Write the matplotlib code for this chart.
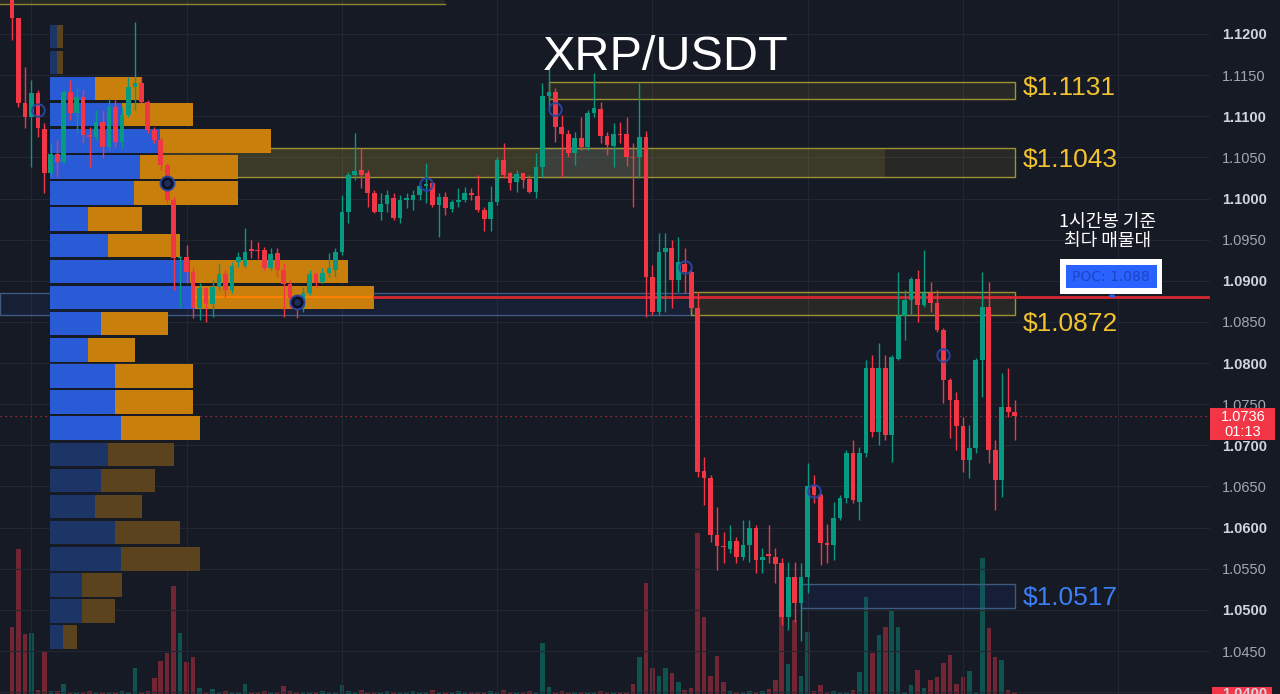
import numpy as np
import matplotlib.pyplot as plt
from matplotlib.patches import Rectangle, Circle
from matplotlib.transforms import blended_transform_factory

# ---- candles (1h) ----
opens = [1.1250, 1.1219, 1.1116, 1.1099, 1.1128, 1.1085, 1.1031, 1.1054, 1.1044, 1.1130,
         1.1104, 1.1123, 1.1077, 1.1075, 1.1093, 1.1063, 1.1111, 1.1069, 1.1102, 1.1136,
         1.1140, 1.1117, 1.1083, 1.1071, 1.1041, 1.0998, 1.0928, 1.0929, 1.0911, 1.0867,
         1.0891, 1.0872, 1.0892, 1.0908, 1.0889, 1.0923, 1.0918, 1.0939, 1.0938, 1.0937,
         1.0916, 1.0934, 1.0913, 1.0896, 1.0879, 1.0868, 1.0885, 1.0908, 1.0898, 1.0910,
         1.0913, 1.0935, 1.0984, 1.1029, 1.1035, 1.1031, 1.1007, 1.0984, 1.0993, 1.1001,
         1.0976, 1.0998, 1.0998, 1.1004, 1.1015, 1.1019, 1.0992, 1.1002, 1.0987, 1.0996,
         1.0998, 1.1007, 1.1003, 1.0986, 1.0975, 1.0996, 1.1047, 1.1031, 1.1020, 1.1031,
         1.1024, 1.1008, 1.1038, 1.1125, 1.1130, 1.1087, 1.1078, 1.1055, 1.1074, 1.1063,
         1.1104, 1.1109, 1.1076, 1.1064, 1.1078, 1.1078, 1.1051, 1.1050, 1.1075, 1.0905,
         1.0862, 1.0935, 1.0940, 1.0901, 1.0920, 1.0911, 1.0867, 1.0669, 1.0660, 1.0591,
         1.0577, 1.0574, 1.0584, 1.0564, 1.0579, 1.0600, 1.0561, 1.0567, 1.0564, 1.0557,
         1.0491, 1.0540, 1.0508, 1.0540, 1.0650, 1.0640, 1.0581, 1.0579, 1.0612, 1.0636,
         1.0691, 1.0631, 1.0691, 1.0794, 1.0716, 1.0794, 1.0713, 1.0805, 1.0857, 1.0877,
         1.0902, 1.0871, 1.0885, 1.0873, 1.0840, 1.0779, 1.0755, 1.0723, 1.0682, 1.0697,
         1.0804, 1.0868, 1.0694, 1.0658, 1.0747, 1.0741]
highs = [1.1253, 1.1220, 1.1160, 1.1144, 1.1132, 1.1092, 1.1068, 1.1071, 1.1132, 1.1144,
         1.1134, 1.1132, 1.1087, 1.1108, 1.1108, 1.1122, 1.1120, 1.1111, 1.1148, 1.1215,
         1.1148, 1.1120, 1.1087, 1.1075, 1.1043, 1.1002, 1.0930, 1.0944, 1.0917, 1.0897,
         1.0892, 1.0901, 1.0922, 1.0913, 1.0923, 1.0935, 1.0964, 1.0950, 1.0947, 1.0941,
         1.0940, 1.0940, 1.0922, 1.0901, 1.0880, 1.0892, 1.0913, 1.0911, 1.0916, 1.0934,
         1.0940, 1.1004, 1.1032, 1.1080, 1.1061, 1.1035, 1.1010, 1.1007, 1.1010, 1.1007,
         1.1004, 1.1007, 1.1010, 1.1020, 1.1043, 1.1020, 1.1007, 1.1008, 1.0998, 1.1013,
         1.1014, 1.1013, 1.1029, 1.0990, 1.1015, 1.1051, 1.1068, 1.1032, 1.1035, 1.1031,
         1.1029, 1.1055, 1.1140, 1.1166, 1.1134, 1.1102, 1.1083, 1.1081, 1.1099, 1.1108,
         1.1153, 1.1117, 1.1081, 1.1092, 1.1093, 1.1099, 1.1068, 1.1140, 1.1082, 1.0919,
         1.0958, 1.0958, 1.0950, 1.0953, 1.0940, 1.0913, 1.0886, 1.0686, 1.0664, 1.0625,
         1.0595, 1.0603, 1.0589, 1.0609, 1.0609, 1.0603, 1.0575, 1.0603, 1.0575, 1.0563,
         1.0558, 1.0558, 1.0557, 1.0679, 1.0664, 1.0642, 1.0605, 1.0631, 1.0640, 1.0694,
         1.0707, 1.0698, 1.0804, 1.0810, 1.0824, 1.0810, 1.0810, 1.0911, 1.0889, 1.0905,
         1.0913, 1.0937, 1.0899, 1.0889, 1.0843, 1.0782, 1.0765, 1.0734, 1.0725, 1.0806,
         1.0911, 1.0899, 1.0706, 1.0788, 1.0794, 1.0755]
lows = [1.1193, 1.1111, 1.1086, 1.1038, 1.1075, 1.1007, 1.1026, 1.1026, 1.1043, 1.1096,
        1.1081, 1.1068, 1.1038, 1.1071, 1.1049, 1.1059, 1.1063, 1.1061, 1.1099, 1.1108,
        1.1116, 1.1080, 1.1068, 1.1035, 1.0995, 1.0889, 1.0868, 1.0897, 1.0855, 1.0852,
        1.0850, 1.0856, 1.0889, 1.0880, 1.0885, 1.0917, 1.0916, 1.0928, 1.0927, 1.0913,
        1.0913, 1.0905, 1.0856, 1.0867, 1.0855, 1.0862, 1.0883, 1.0893, 1.0897, 1.0905,
        1.0905, 1.0931, 1.0970, 1.1023, 1.1013, 1.0990, 1.0982, 1.0974, 1.0984, 1.0974,
        1.0970, 1.0989, 1.0986, 1.0998, 1.0995, 1.0990, 1.0953, 1.0980, 1.0984, 1.0990,
        1.0996, 1.0998, 1.0984, 1.0961, 1.0961, 1.0992, 1.1025, 1.1010, 1.1008, 1.1013,
        1.1007, 1.1001, 1.1026, 1.1108, 1.1069, 1.1026, 1.1050, 1.1041, 1.1059, 1.1059,
        1.1099, 1.1068, 1.1053, 1.1038, 1.1068, 1.1040, 1.0990, 1.1025, 1.0856, 1.0858,
        1.0858, 1.0862, 1.0867, 1.0886, 1.0885, 1.0864, 1.0662, 1.0627, 1.0582, 1.0549,
        1.0557, 1.0569, 1.0557, 1.0561, 1.0558, 1.0545, 1.0545, 1.0557, 1.0533, 1.0482,
        1.0476, 1.0485, 1.0462, 1.0521, 1.0630, 1.0555, 1.0557, 1.0561, 1.0609, 1.0630,
        1.0630, 1.0609, 1.0686, 1.0710, 1.0700, 1.0707, 1.0680, 1.0804, 1.0828, 1.0858,
        1.0850, 1.0868, 1.0862, 1.0838, 1.0751, 1.0709, 1.0694, 1.0668, 1.0660, 1.0691,
        1.0759, 1.0678, 1.0621, 1.0637, 1.0735, 1.0707]
closes = [1.1219, 1.1116, 1.1099, 1.1128, 1.1086, 1.1031, 1.1054, 1.1044, 1.1130, 1.1104,
          1.1123, 1.1077, 1.1075, 1.1093, 1.1063, 1.1111, 1.1069, 1.1102, 1.1136, 1.1140,
          1.1117, 1.1083, 1.1071, 1.1041, 1.0998, 1.0928, 1.0929, 1.0911, 1.0867, 1.0891,
          1.0872, 1.0892, 1.0908, 1.0889, 1.0918, 1.0929, 1.0935, 1.0936, 1.0936, 1.0916,
          1.0933, 1.0913, 1.0896, 1.0879, 1.0874, 1.0885, 1.0908, 1.0897, 1.0910, 1.0916,
          1.0935, 1.0984, 1.1029, 1.1034, 1.1029, 1.1007, 1.0984, 1.0993, 1.1004, 1.0976,
          1.0998, 1.1001, 1.1004, 1.1015, 1.1018, 1.0992, 1.1002, 1.0989, 1.0996, 1.0998,
          1.1007, 1.1004, 1.0986, 1.0975, 1.0996, 1.1047, 1.1029, 1.1019, 1.1030, 1.1023,
          1.1008, 1.1038, 1.1125, 1.1130, 1.1087, 1.1078, 1.1055, 1.1074, 1.1063, 1.1104,
          1.1110, 1.1076, 1.1065, 1.1078, 1.1077, 1.1050, 1.1049, 1.1075, 1.0905, 1.0862,
          1.0935, 1.0940, 1.0901, 1.0923, 1.0911, 1.0867, 1.0668, 1.0660, 1.0591, 1.0578,
          1.0576, 1.0584, 1.0564, 1.0579, 1.0600, 1.0561, 1.0564, 1.0566, 1.0556, 1.0491,
          1.0540, 1.0508, 1.0540, 1.0651, 1.0640, 1.0581, 1.0579, 1.0612, 1.0636, 1.0691,
          1.0634, 1.0691, 1.0794, 1.0716, 1.0794, 1.0713, 1.0807, 1.0857, 1.0877, 1.0902,
          1.0871, 1.0885, 1.0873, 1.0840, 1.0779, 1.0755, 1.0723, 1.0682, 1.0697, 1.0804,
          1.0868, 1.0694, 1.0658, 1.0747, 1.0741, 1.0736]
volumes = [67, 145, 60, 61, 4, 43, 3, 3, 10,
           2, 1, 2, 3, 1, 2, 2, 1, 3, 2,
           26, 2, 3, 16, 33, 41, 108, 61, 32, 37, 6, 2, 5,
           2, 3, 1, 2, 10, 2, 1, 3, 2, 2, 8,
           3, 2, 1, 2, 2, 3, 1, 2, 9,
           3, 2, 4, 2, 1, 2, 3, 2, 2, 1, 3, 2, 2, 4, 2, 1, 2, 3, 2, 2,
           1, 2, 3, 2, 4, 2, 2, 1, 3, 2,
           51, 7, 2, 3, 2, 1, 2, 2, 2, 3, 2, 2, 1, 2,
           10, 37, 111, 26, 18, 26, 21, 12, 4, 6, 161, 77, 18, 38, 12,
           3, 2, 2, 3, 2, 3, 5, 14, 77, 30, 74, 18, 62, 3, 9,
           2, 3, 2, 2, 4,
           22, 97, 41, 59, 67, 84, 67, 2, 9, 24, 6, 14, 17, 31, 39, 10, 17, 23, 2,
           136, 66, 37, 34, 4, 2]

# ---- visible range volume profile (bottom row first) ----
prof_low, prof_high = 1.0451, 1.1213
prof_up = [13, 32, 32, 71, 65, 45, 51, 58, 71, 65, 65, 38, 51, 145, 140, 58, 38, 84, 90, 110, 72, 45, 7, 7]
prof_down = [14, 33, 40, 79, 65, 47, 54, 66, 79, 78, 78, 47, 67, 179, 158, 72, 54, 104, 98, 111, 71, 47, 6, 6]
va_rows = (8, 21)
poc = 1.088

last_price = 1.0736
countdown = "01:13"

# ---- marked zones ----
zone_labels = ["$1.1131", "$1.1043", "$1.0872", "$1.0517"]
zone_low = [1.1121, 1.1026, 1.0859, 1.0502]
zone_high = [1.1142, 1.1061, 1.0886, 1.0532]
zone_start = [83, 23, 105, 122]
zone_kind = ["y", "y", "y", "b"]
label_at = [1.1134, 1.1047, 1.0847, 1.0515]

marker_idx = [4, 24, 44, 64, 84, 104, 124, 144]
marker_price = [1.1108, 1.1019, 1.0874, 1.1018, 1.1109, 1.0917, 1.0645, 1.0810]
marker_filled = [False, True, True, False, False, False, False, False]

BG = "#161a25"
UP = "#089981"
DN = "#f23645"
YEL = "#f2c230"
BLU = "#3d7ef5"

W, H = 1280, 694
PW = 1210  # plot width in px, price scale to the right
fig = plt.figure(figsize=(W / 100, H / 100), dpi=100, facecolor=BG)


def fx(px):
    return px / W


def fy(py):
    return 1 - py / H


n = len(closes)
idx = np.arange(n)
xlim = (-1.85, 185.2)
ylim = (1.03978, 1.12413)

# volume pane (drawn underneath)
axv = fig.add_axes([0, 0, PW / W, 1], facecolor=BG)
axv.set_xlim(*xlim)
axv.set_ylim(0, H)
vcol = [UP if c >= o else DN for o, c in zip(opens, closes)]
valpha = [0.45 if c >= o else 0.42 for o, c in zip(opens, closes)]
for i in range(n):
    axv.bar(idx[i], volumes[i], width=0.7, color=vcol[i], alpha=valpha[i], linewidth=0)
axv.axis("off")

ax = fig.add_axes([0, 0, PW / W, 1], facecolor="none")
ax.set_xlim(*xlim)
ax.set_ylim(*ylim)
for s in ax.spines.values():
    s.set_visible(False)

# grid
for p in np.arange(1.040, 1.1251, 0.005):
    ax.axhline(p, color="#232734", lw=0.8, zorder=0)
for g in range(3, 180, 24):
    ax.axvline(g, color="#232734", lw=0.8, zorder=0)

# zones
ax.add_patch(Rectangle((xlim[0], 1.1237), 67 - xlim[0], 0.006, facecolor="#ffe13b", alpha=0.07,
                       edgecolor="none", zorder=1))
ax.plot([xlim[0], 67], [1.1237, 1.1237], color="#8f8530", lw=1, zorder=1)

ax.add_patch(Rectangle((xlim[0], 1.0859), 105 - xlim[0], 1.0885 - 1.0859, facecolor="#2962ff",
                       alpha=0.07, edgecolor="none", zorder=1))
ax.add_patch(Rectangle((xlim[0], 1.0859), 105 - xlim[0], 1.0885 - 1.0859, facecolor="none",
                       edgecolor="#3d5a80", lw=1, zorder=1))
ax.add_patch(Rectangle((82, 1.1026), 15, 1.1061 - 1.1026, facecolor="#2962ff", alpha=0.12,
                       edgecolor="none", zorder=1))
ax.add_patch(Rectangle((82, 1.1026), 15, 1.1061 - 1.1026, facecolor="none",
                       edgecolor="#3d5a80", lw=1, zorder=1))
ax.add_patch(Rectangle((23, 1.1026), 112, 1.1061 - 1.1026, facecolor="#ffe13b", alpha=0.09,
                       edgecolor="none", zorder=1))

for lab, lo, hi, st, k, ly in zip(zone_labels, zone_low, zone_high, zone_start, zone_kind, label_at):
    ec = "#9d9134" if k == "y" else "#3d5a80"
    fc = "#ffe13b" if k == "y" else "#2962ff"
    ax.add_patch(Rectangle((st, lo), n - 1 - st, hi - lo, facecolor=fc, alpha=0.08,
                           edgecolor="none", zorder=1))
    ax.add_patch(Rectangle((st, lo), n - 1 - st, hi - lo, facecolor="none",
                           edgecolor=ec, lw=1, zorder=1))
    ax.text(n + 0.2, ly, lab, color=YEL if k == "y" else BLU, fontsize=19,
            family="Liberation Sans", ha="left", va="center", zorder=6)

# volume profile anchored to the left edge
tb = blended_transform_factory(ax.transAxes, ax.transData)
edges = np.linspace(prof_low, prof_high, len(prof_up) + 1)
row_h = edges[1] - edges[0]
gap = 0.00032
x0 = 50 / PW
poc_row = int(np.argmax(np.array(prof_up) + np.array(prof_down)))
for r, (u, d) in enumerate(zip(prof_up, prof_down)):
    inside = va_rows[0] <= r <= va_rows[1]
    cu = "#2a5bd7" if inside else "#1d3467"
    cd = "#c97f0c" if inside else "#5b431e"
    ax.add_patch(Rectangle((x0, edges[r] + gap / 2), u / PW, row_h - gap, transform=tb,
                           facecolor=cu, edgecolor="none", zorder=2))
    ax.add_patch(Rectangle((x0 + u / PW, edges[r] + gap / 2), d / PW, row_h - gap, transform=tb,
                           facecolor=cd, edgecolor="none", zorder=2))
poc_end = x0 + (prof_up[poc_row] + prof_down[poc_row]) / PW
ax.plot([x0 + prof_up[poc_row] / PW, poc_end], [poc, poc], transform=tb, color="#ff7f00",
        lw=1.6, zorder=2.5)
ax.plot([poc_end, 1.0], [poc, poc], transform=tb, color="#d62830", lw=2, zorder=2.5)

# last price line
ax.axhline(last_price, color=DN, lw=0.9, ls=(0, (1, 3)), alpha=0.8, zorder=1.5)

# candles
ccol = [UP if c >= o else DN for o, c in zip(opens, closes)]
ax.vlines(idx, lows, highs, colors=ccol, lw=1, zorder=3)
bot = np.minimum(opens, closes)
hgt = np.maximum(np.abs(np.array(closes) - np.array(opens)), 0.00014)
ax.bar(idx, hgt, bottom=bot, width=0.72, color=ccol, linewidth=0, zorder=3.1)

# pivot markers
for mi, mp, mf in zip(marker_idx, marker_price, marker_filled):
    ax.plot(mi, mp, "o", ms=10 if mf else 9, mfc="#0c0f1a" if mf else "none",
            mec="#2b43a0", mew=1.4, zorder=4)
    if mf:
        ax.plot(mi, mp, "o", ms=4, color="#1d2c5c", zorder=4.1)

# price scale
ax.yaxis.tick_right()
ticks = np.round(np.arange(1.040, 1.1201, 0.005), 3)
ax.set_yticks(ticks)
ax.set_yticklabels([f"{t:.4f}" for t in ticks])
ax.tick_params(axis="y", length=0, pad=8.6, labelsize=10.5)
ax.set_xticks([])
for t, lab in zip(ticks, ax.get_yticklabels()):
    lab.set_family("Liberation Sans")
    if round(t * 1000) % 10 == 0:
        lab.set_color("#d1d4dc")
        lab.set_fontweight("bold")
    else:
        lab.set_color("#a3a6af")

# bottom red tag strip (behind the 1.0400 label)
fig.add_artist(Rectangle((fx(1212), 0), fx(60), 7 / H, transform=fig.transFigure,
                         facecolor=DN, edgecolor="none", zorder=-1))

# current price tag
fig.add_artist(Rectangle((fx(1210), fy(440)), fx(65), 32 / H, transform=fig.transFigure,
                         facecolor=DN, edgecolor="none", zorder=5))
fig.text(fx(1243), fy(417), f"{last_price:.4f}", color="white", fontsize=10.5,
         family="Liberation Sans", ha="center", va="center", zorder=6)
fig.text(fx(1243), fy(432), countdown, color="white", fontsize=10.5,
         family="Liberation Sans", ha="center", va="center", zorder=6)

# title
fig.text(fx(666), fy(57), "XRP/USDT", color="white", fontsize=35, family="Liberation Sans",
         ha="center", va="center", zorder=7)

# POC callout
fig.text(fx(1108), fy(231), "1시간봉 기준\n최다 매물대", color="white", fontsize=13,
         fontweight="medium", family=["Noto Sans CJK KR", "DejaVu Sans"], ha="center",
         va="center", linespacing=1.05, zorder=7)
fig.add_artist(Rectangle((fx(1060), fy(294)), fx(102), 35 / H, transform=fig.transFigure,
                         facecolor="white", edgecolor="none", zorder=6))
fig.add_artist(Rectangle((fx(1066), fy(288)), fx(91), 23 / H, transform=fig.transFigure,
                         facecolor="#2962ff", edgecolor="none", zorder=6.5))
fig.text(fx(1111), fy(277), f"POC: {poc:.3f}", color="#1c45c4", fontsize=10,
         ha="center", va="center", zorder=7)
fig.add_artist(Circle((fx(1112), fy(296)), 3 / W, transform=fig.transFigure,
                      facecolor="#2962ff", edgecolor="none", zorder=7))

fig.savefig("out.png", dpi=100, facecolor=BG)
